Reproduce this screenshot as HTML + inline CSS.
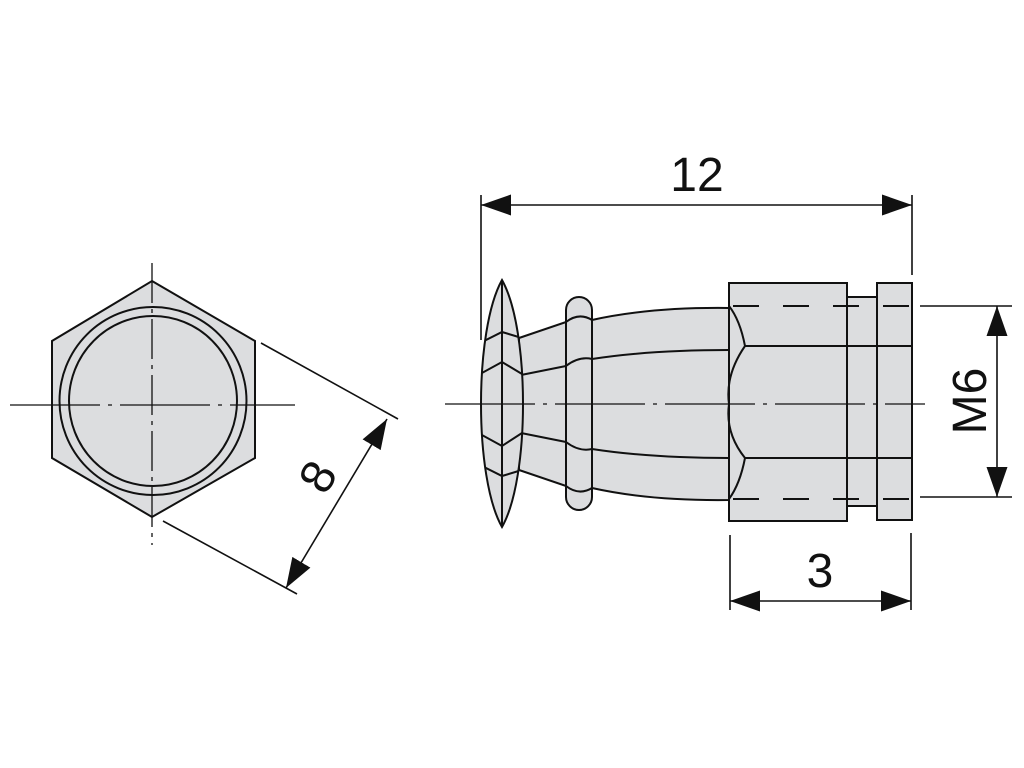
<!DOCTYPE html>
<html><head><style>html,body{margin:0;padding:0;background:#fff}svg{display:block}</style></head>
<body>
<svg width="1024" height="768" viewBox="0 0 1024 768" xmlns="http://www.w3.org/2000/svg">
<defs>
<marker id="a" viewBox="0 0 10 10" refX="10" refY="5" markerWidth="30" markerHeight="30" markerUnits="userSpaceOnUse" orient="auto-start-reverse">
<path d="M0,1.5 L10,5 L0,8.5 Z" fill="#111"/></marker>
<clipPath id="lens"><path d="M502,280 C530,330 530,478 502,527 C474,478 474,330 502,280 Z"/></clipPath>
</defs>
<g stroke="#111" stroke-width="2" fill="#dcdddf">
<polygon points="152,281 255,341 255,458 152,517 52,458 52,341"/>
<ellipse cx="153" cy="401" rx="93.5" ry="94" fill="none"/>
<ellipse cx="153" cy="401" rx="84" ry="85" fill="none"/>
<path d="M519,338 L566,322 L592,320 Q650,307 729,308 L729,500 Q650,501 592,488 L566,486 L519,470 Z"/>
<path d="M521,375 L566,366 L592,359 Q650,350 729,350 M521,433 L566,442 L592,449 Q650,458 729,458" fill="none"/>
<rect x="566" y="297" width="26" height="213" rx="13" ry="13"/>
<path d="M566,322 Q579,312 592,320 M566,366 Q579,356 592,359 M566,442 Q579,452 592,449 M566,486 Q579,496 592,488" fill="none"/>
<path d="M502,280 C530,330 530,478 502,527 C474,478 474,330 502,280 Z"/>
<g clip-path="url(#lens)" fill="none">
<path d="M502,280 L502,527 M480,343 L502,332 L522,338 M480,374 L502,362 L522,374 M480,434 L502,446 L522,433 M480,465 L502,476 L522,470"/>
</g>
<rect x="729" y="283" width="118" height="238"/>
<rect x="847" y="297" width="30" height="209"/>
<rect x="877" y="283" width="35" height="237"/>
<path d="M729,306 Q740,320 745,346 Q725,375 729,404 Q725,433 745,458 Q740,484 729,499 M745,346 L912,346 M745,458 L912,458" fill="none"/>
</g>
<g stroke="#111" stroke-width="2" fill="none">
<path d="M733,306 L912,306 M733,499 L912,499" stroke-dasharray="26,24"/>
<path d="M10,405 L295,405 M445,404 L925,404" stroke-width="1.3" stroke-dasharray="90,8,4,8"/>
<path d="M152,263 L152,545" stroke-width="1.3" stroke-dasharray="40,6,4,6"/>
<path d="M261,343 L398,419 M163,521 L297,594" stroke-width="1.6"/>
<line x1="387" y1="419" x2="286" y2="588" stroke-width="1.6" marker-start="url(#a)" marker-end="url(#a)"/>
<path d="M481,195 L481,340 M912,195 L912,275" stroke-width="1.6"/>
<line x1="481" y1="205" x2="912" y2="205" stroke-width="1.6" marker-start="url(#a)" marker-end="url(#a)"/>
<path d="M730,535 L730,610 M911,533 L911,610" stroke-width="1.6"/>
<line x1="730" y1="601" x2="911" y2="601" stroke-width="1.6" marker-start="url(#a)" marker-end="url(#a)"/>
<path d="M920,306 L1012,306 M920,497 L1012,497" stroke-width="1.6"/>
<line x1="997" y1="306" x2="997" y2="497" stroke-width="1.6" marker-start="url(#a)" marker-end="url(#a)"/>
</g>
<g font-family="Liberation Sans, sans-serif" font-size="48" fill="#111" text-anchor="middle">
<text x="697" y="191">12</text>
<text x="820" y="587">3</text>
<text transform="translate(986,401) rotate(-90)">M6</text>
<text transform="translate(332,485) rotate(-60)">8</text>
</g>
</svg>
</body></html>
